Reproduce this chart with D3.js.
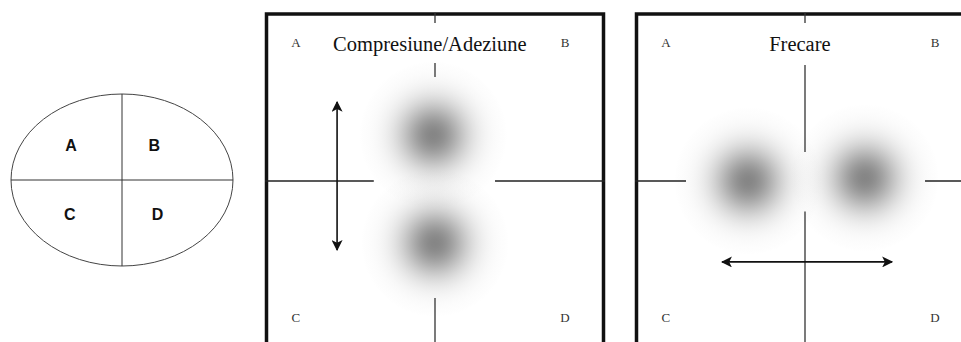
<!DOCTYPE html>
<html>
<head>
<meta charset="utf-8">
<script src="https://cdn.jsdelivr.net/npm/d3@7"></script>
<style>
  body { margin: 0; background: #fff; }
  svg { display: block; }
</style>
</head>
<body>
<div id="chart"></div>
<script>
// quadrant names
const quadrants = ["A", "B", "C", "D"];
// ellipse quadrant label positions (unit coords, x right / y up)
const ellipseLabelPos = [[-0.46, 0.34], [0.29, 0.34], [-0.47, -0.47], [0.32, -0.47]];

// panels
const panelTitles = ["Compresiune/Adeziune", "Frecare"];
const panelCenters = [[435, 181], [805, 181]];
// pressure spots per panel, unit coords
const blobs = [
  [[-0.01, 0.27], [0, -0.365]],
  [[-0.335, 0], [0.353, 0.018]]
];
// double arrows per panel: [x1, y1, x2, y2]
const arrows = [
  [-0.576, 0.465, -0.576, -0.406],
  [-0.488, -0.476, 0.512, -0.476]
];
// horizontal axis segments [x1, x2]
const hSegments = [
  [[-1, -0.36], [0.353, 1]],
  [[-1, -0.7], [0.706, 1]]
];
// vertical axis segments [y1, y2]
const vSegments = [
  [[0.99, 0.93], [0.694, 0.612], [-0.688, -1.1]],
  [[0.99, 0.93], [0.682, 0.17], [-0.18, -1.1]]
];
const cornerPos = [[-0.818, 0.79], [0.765, 0.79], [-0.818, -0.83], [0.765, -0.83]];

const W = 961, H = 342;
const svg = d3.select("#chart").append("svg")
  .attr("width", W).attr("height", H)
  .attr("viewBox", [0, 0, W, H]);

const defs = svg.append("defs");
const grad = defs.append("radialGradient").attr("id", "spot");
d3.range(0, 1.001, 0.05).forEach(t => {
  grad.append("stop")
    .attr("offset", t)
    .attr("stop-color", "#787878")
    .attr("stop-opacity", t >= 0.999 ? 0 : 0.9 * Math.exp(-(t * t) / (2 * 0.32 * 0.32)));
});
defs.append("marker")
  .attr("id", "head")
  .attr("viewBox", "0 -5 10 10")
  .attr("refX", 9).attr("refY", 0)
  .attr("markerWidth", 11).attr("markerHeight", 11)
  .attr("markerUnits", "userSpaceOnUse")
  .attr("orient", "auto-start-reverse")
  .append("path")
  .attr("d", "M0,-5L10,0L0,5L2.5,0Z")
  .attr("fill", "#111");

// ---- ellipse diagram ----
const ex = d3.scaleLinear().domain([-1, 1]).range([11, 233]);
const ey = d3.scaleLinear().domain([1, -1]).range([94, 266]);
const eg = svg.append("g");
eg.append("ellipse")
  .attr("cx", ex(0)).attr("cy", ey(0))
  .attr("rx", ex(1) - ex(0)).attr("ry", ey(-1) - ey(0))
  .attr("fill", "none").attr("stroke", "#444").attr("stroke-width", 1);
eg.append("line").attr("x1", ex(-1)).attr("x2", ex(1)).attr("y1", ey(0)).attr("y2", ey(0))
  .attr("stroke", "#333");
eg.append("line").attr("x1", ex(0)).attr("x2", ex(0)).attr("y1", ey(1)).attr("y2", ey(-1))
  .attr("stroke", "#333");
eg.selectAll("text").data(quadrants).join("text")
  .attr("x", (d, i) => ex(ellipseLabelPos[i][0]))
  .attr("y", (d, i) => ey(ellipseLabelPos[i][1]))
  .attr("text-anchor", "middle")
  .attr("font-family", "Liberation Sans, Arial, sans-serif")
  .attr("font-weight", "bold")
  .attr("font-size", 16)
  .attr("fill", "#111")
  .text(d => d);

// ---- panels ----
panelTitles.forEach((title, p) => {
  const [cx, cy] = panelCenters[p];
  const x = d3.scaleLinear().domain([-1, 1]).range([cx - 170, cx + 170]);
  const y = d3.scaleLinear().domain([1, -1]).range([cy - 170, cy + 170]);
  const g = svg.append("g");

  g.append("rect")
    .attr("x", x(-1) + 1.5).attr("y", 14)
    .attr("width", x(1) - x(-1) - 3).attr("height", 400)
    .attr("fill", "#fff").attr("stroke", "#111").attr("stroke-width", 3.5);

  g.selectAll("circle.spot").data(blobs[p]).join("circle")
    .attr("class", "spot")
    .attr("cx", d => x(d[0])).attr("cy", d => y(d[1]))
    .attr("r", 74)
    .attr("fill", "url(#spot)");

  g.selectAll("line.h").data(hSegments[p]).join("line")
    .attr("class", "h")
    .attr("x1", d => x(d[0])).attr("x2", d => x(d[1]))
    .attr("y1", y(0)).attr("y2", y(0))
    .attr("stroke", "#222").attr("stroke-width", 1.3);
  g.selectAll("line.v").data(vSegments[p]).join("line")
    .attr("class", "v")
    .attr("x1", x(0)).attr("x2", x(0))
    .attr("y1", d => y(d[0])).attr("y2", d => y(d[1]))
    .attr("stroke", "#333").attr("stroke-width", 1.3);

  const a = arrows[p];
  g.append("line")
    .attr("x1", x(a[0])).attr("y1", y(a[1]))
    .attr("x2", x(a[2])).attr("y2", y(a[3]))
    .attr("stroke", "#111").attr("stroke-width", 1.6)
    .attr("marker-start", "url(#head)")
    .attr("marker-end", "url(#head)");

  g.selectAll("text.q").data(quadrants).join("text")
    .attr("class", "q")
    .attr("x", (d, i) => x(cornerPos[i][0]))
    .attr("y", (d, i) => y(cornerPos[i][1]))
    .attr("text-anchor", "middle")
    .attr("font-family", "Liberation Serif, Times New Roman, serif")
    .attr("font-size", 13)
    .attr("fill", "#333")
    .text(d => d);

  g.append("text")
    .attr("x", x(-0.03)).attr("y", 51)
    .attr("text-anchor", "middle")
    .attr("font-family", "Liberation Serif, Times New Roman, serif")
    .attr("font-size", 20.5)
    .attr("fill", "#111")
    .text(title);
});
</script>
</body>
</html>
